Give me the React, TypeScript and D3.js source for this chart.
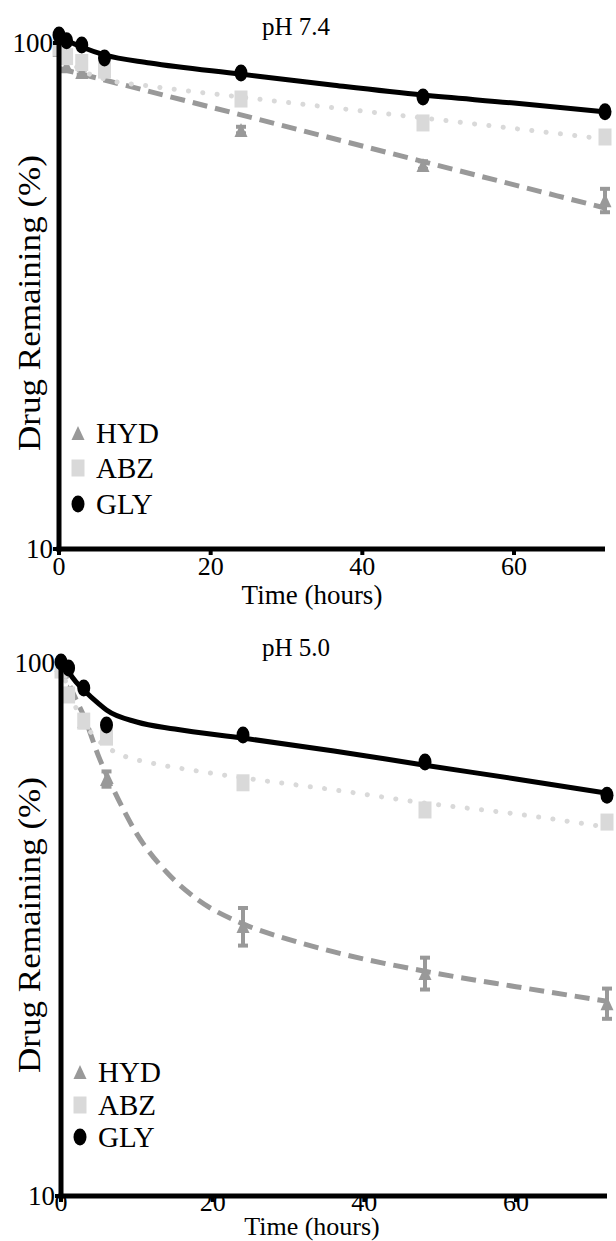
import React from 'react';
import * as d3 from 'd3';

const FONT = '"Liberation Serif", "Times New Roman", Times, serif';

// sampling times (hours)
const times = [0, 1, 3, 6, 24, 48, 72];
const xTicks = [0, 20, 40, 60];
const yTicks = [10, 100];
const seriesNames = ['HYD', 'ABZ', 'GLY'];
const titles = ['pH 7.4', 'pH 5.0'];

// ---- pH 7.4 measured points (%)
const hyd74 = [97, 90, 87.6, 88, 67.3, 57.4, 48.9];
const hyd74Err = [0, 0, 1, 0, 1, 1, 2.6];
const abz74 = [98, 94, 91.5, 88.4, 77.5, 69.5, 65.2];
const gly74 = [103.7, 101, 99.1, 93.4, 87.2, 78.2, 73.1];

// ---- pH 7.4 fitted curves
const fitHyd74T = [0, 24, 48, 72];
const fitHyd74V = [89.1, 72.1, 58.3, 47.2];
const fitAbz74T = [0, 1, 3, 6, 12, 24, 48, 72];
const fitAbz74V = [99.1, 93.4, 88.4, 84.9, 82.2, 78.2, 71.1, 64.6];
const fitGly74T = [0, 3, 6, 12, 24, 36, 48, 60, 72];
const fitGly74V = [102.8, 98.2, 94.7, 91.3, 86.8, 82.6, 78.9, 76.1, 73.1];

// ---- pH 5.0 measured points (%)
const hyd50 = [99.1, 88.4, 77.8, 60.6, 32.1, 26.2, 23.0];
const hyd50Err = [0, 1, 2, 2, 2.6, 1.8, 1.5];
const abz50 = [97.0, 87.1, 77.8, 72.6, 59.6, 53.0, 50.3];
const gly50 = [100.4, 97.9, 89.8, 76.5, 73.3, 65.2, 56.5];

// ---- pH 5.0 fitted curves
const fitHyd50T = [0, 1, 2, 3, 5, 7, 10, 14, 18, 24, 30, 36, 48, 60, 72];
const fitHyd50V = [99.1, 91.7, 85.3, 79.6, 66.6, 57.6, 47.8, 40.4, 36.0, 32.4, 30.3, 28.7, 26.4, 24.7, 23.2];
const fitAbz50T = [0, 1, 2, 3, 4, 6, 8, 12, 18, 24, 36, 48, 60, 72];
const fitAbz50V = [98.3, 89.0, 82.3, 77.5, 73.9, 69.6, 67.2, 64.9, 62.7, 60.9, 57.8, 54.6, 52.1, 49.2];
const fitGly50T = [0, 1, 2, 3, 5, 6, 10, 15, 24, 36, 48, 60, 72];
const fitGly50V = [101.3, 96.2, 92.1, 89.0, 83.8, 81.6, 77.5, 75.2, 72.3, 68.4, 64.3, 60.6, 57.0];

const HYD_COLOR = '#999999';
const ABZ_COLOR = '#d9d9d9';
const GLY_COLOR = '#000000';

type Layout = {
  xRange: [number, number];
  yRange: [number, number]; // [y of 10, y of 100]
  titleY: number;
  tickY: number;
  xTitleY: number;
  xTitleSize: number;
  yTitleY: number;
  legendRows: number[];
};

const layoutTop: Layout = {
  xRange: [59, 605],
  yRange: [549, 43],
  titleY: 35,
  tickY: 575,
  xTitleY: 604,
  xTitleSize: 27,
  yTitleY: 303,
  legendRows: [433, 468, 504],
};

const layoutBottom: Layout = {
  xRange: [61, 607],
  yRange: [1196, 663],
  titleY: 656,
  tickY: 1211,
  xTitleY: 1235,
  xTitleSize: 26,
  yTitleY: 925,
  legendRows: [1072, 1105, 1137],
};

type PanelProps = {
  L: Layout;
  title: string;
  hyd: number[];
  hydErr: number[];
  abz: number[];
  gly: number[];
  fitHT: number[]; fitHV: number[];
  fitAT: number[]; fitAV: number[];
  fitGT: number[]; fitGV: number[];
};

function tri(cx: number, cy: number, w = 13, h = 14) {
  return `M${cx},${cy - h / 2} L${cx + w / 2},${cy + h / 2} L${cx - w / 2},${cy + h / 2} Z`;
}

function Panel(p: PanelProps) {
  const { L } = p;
  const x = d3.scaleLinear().domain([0, 72]).range(L.xRange);
  const y = d3.scaleLog().domain([10, 100]).range(L.yRange);
  const line = d3
    .line<[number, number]>()
    .x((d) => x(d[0]))
    .y((d) => y(d[1]))
    .curve(d3.curveMonotoneX);
  const zip = (t: number[], v: number[]) => t.map((tt, i) => [tt, v[i]] as [number, number]);
  const lx = x(0) + 19;

  return (
    <g>
      {/* title */}
      <text x={296} y={L.titleY} textAnchor="middle" fontFamily={FONT} fontSize={25}>
        {p.title}
      </text>

      {/* fitted curves */}
      <path d={line(zip(p.fitHT, p.fitHV)) || ''} fill="none" stroke={HYD_COLOR} strokeWidth={5} strokeDasharray="15,8" />
      <path d={line(zip(p.fitAT, p.fitAV)) || ''} fill="none" stroke={ABZ_COLOR} strokeWidth={5} strokeDasharray="0.1,14.3" strokeLinecap="round" />
      <path d={line(zip(p.fitGT, p.fitGV)) || ''} fill="none" stroke={GLY_COLOR} strokeWidth={5} />

      {/* HYD markers with error bars */}
      {times.map((t, i) => {
        const cx = x(t);
        const cy = y(p.hyd[i]);
        const e = p.hydErr[i];
        return (
          <g key={'h' + i}>
            {e > 0 && (
              <g stroke={HYD_COLOR} strokeWidth={4}>
                <line x1={cx} x2={cx} y1={y(p.hyd[i] + e)} y2={y(p.hyd[i] - e)} />
                <line x1={cx - 5} x2={cx + 5} y1={y(p.hyd[i] + e)} y2={y(p.hyd[i] + e)} />
                <line x1={cx - 5} x2={cx + 5} y1={y(p.hyd[i] - e)} y2={y(p.hyd[i] - e)} />
              </g>
            )}
            <path d={tri(cx, cy)} fill={HYD_COLOR} />
          </g>
        );
      })}

      {/* ABZ markers */}
      {times.map((t, i) => (
        <rect key={'a' + i} x={x(t) - 6.5} y={y(p.abz[i]) - 8.5} width={13} height={17} fill={ABZ_COLOR} />
      ))}

      {/* GLY markers */}
      {times.map((t, i) => (
        <ellipse key={'g' + i} cx={x(t)} cy={y(p.gly[i])} rx={6.5} ry={8.5} fill={GLY_COLOR} />
      ))}

      {/* axes */}
      <line x1={x(0)} x2={x(0)} y1={y(100) - 2} y2={y(10) + 2.5} stroke="#000" strokeWidth={5} />
      <line x1={x(0) - 2.5} x2={x(72)} y1={y(10)} y2={y(10)} stroke="#000" strokeWidth={5} />
      {xTicks.map((t) => (
        <g key={'xt' + t}>
          <rect x={x(t) - 2} y={y(10)} width={4} height={6} fill="#000" />
          <text x={x(t)} y={L.tickY} textAnchor="middle" fontFamily={FONT} fontSize={26}>
            {t}
          </text>
        </g>
      ))}
      {yTicks.map((v) => (
        <g key={'yt' + v}>
          <rect x={x(0) - 6} y={y(v) - 2} width={6} height={4} fill="#000" />
          <text x={x(0) - 6} y={y(v) + 9} textAnchor="end" fontFamily={FONT} fontSize={27}>
            {v}
          </text>
        </g>
      ))}

      {/* axis titles */}
      <text x={312} y={L.xTitleY} textAnchor="middle" fontFamily={FONT} fontSize={L.xTitleSize}>
        Time (hours)
      </text>
      <text
        transform={`translate(29, ${L.yTitleY}) rotate(-90)`}
        textAnchor="middle"
        dominantBaseline="central"
        fontFamily={FONT}
        fontSize={31}
        textLength={296}
        lengthAdjust="spacingAndGlyphs"
      >
        Drug Remaining (%)
      </text>

      {/* legend */}
      {seriesNames.map((name, i) => {
        const cy = L.legendRows[i];
        return (
          <g key={'lg' + name}>
            {i === 0 && <path d={tri(lx, cy)} fill={HYD_COLOR} />}
            {i === 1 && <rect x={lx - 6.5} y={cy - 8.5} width={13} height={17} fill={ABZ_COLOR} />}
            {i === 2 && <ellipse cx={lx} cy={cy} rx={6.5} ry={8.5} fill={GLY_COLOR} />}
            <text x={lx + 18} y={cy + 10} fontFamily={FONT} fontSize={29}>
              {name}
            </text>
          </g>
        );
      })}
    </g>
  );
}

export default function App() {
  return (
    <svg
      width={616}
      height={1241}
      viewBox="0 0 616 1241"
      style={{ position: 'absolute', left: 0, top: 0, background: '#fff' }}
    >
      <rect x={0} y={0} width={616} height={1241} fill="#fff" />
      <Panel
        L={layoutTop}
        title={titles[0]}
        hyd={hyd74}
        hydErr={hyd74Err}
        abz={abz74}
        gly={gly74}
        fitHT={fitHyd74T}
        fitHV={fitHyd74V}
        fitAT={fitAbz74T}
        fitAV={fitAbz74V}
        fitGT={fitGly74T}
        fitGV={fitGly74V}
      />
      <Panel
        L={layoutBottom}
        title={titles[1]}
        hyd={hyd50}
        hydErr={hyd50Err}
        abz={abz50}
        gly={gly50}
        fitHT={fitHyd50T}
        fitHV={fitHyd50V}
        fitAT={fitAbz50T}
        fitAV={fitAbz50V}
        fitGT={fitGly50T}
        fitGV={fitGly50V}
      />
    </svg>
  );
}
